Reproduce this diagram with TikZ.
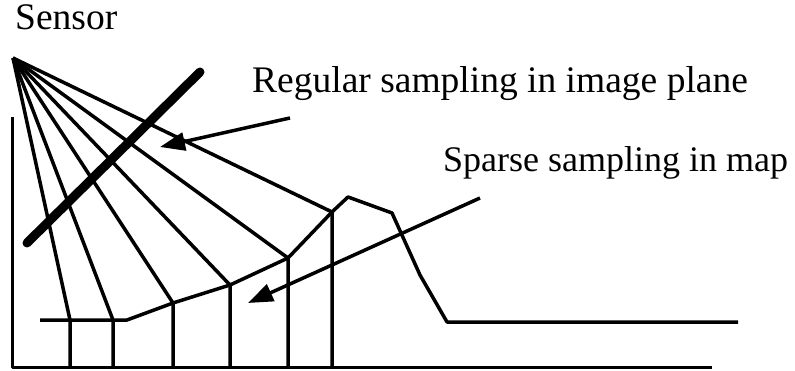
\documentclass[tikz,border=0pt]{standalone}
\usepackage{fontspec}
\setmainfont{Liberation Serif}
\usetikzlibrary{arrows.meta}
\begin{document}
\begin{tikzpicture}[x=1pt,y=-1pt,line join=round,
    ray/.style={line width=3.5pt},
    pointer/.style={line width=3.5pt,-{Triangle[length=25pt,width=18pt]}},
    lbl/.style={anchor=base west,inner sep=0pt,font=\fontsize{37.5}{40}\selectfont}]
  \useasboundingbox (0,0) rectangle (795,371);
  \coordinate (S) at (13,58);
  \coordinate (O) at (12,367); \coordinate (E) at (712,367); \coordinate (Y) at (12,117);
  % terrain samples
  \coordinate (T1) at (70,320);  \coordinate (T2) at (113,320); \coordinate (T3) at (173,303);
  \coordinate (T4) at (230,285); \coordinate (T5) at (288,258); \coordinate (T6) at (332,212);
  % axes
  \draw[line width=3pt] (Y) -- (O) -- (E);
  % terrain profile
  \draw[ray] (40,320) -- (T2) -- (127,320) -- (T3) -- (T4) -- (T5) -- (T6)
       -- (348,197) -- (392,213) -- (420,275) -- (447,322) -- (738,322);
  % rays and their map columns
  \foreach \t in {T1,T2,T3,T4,T5,T6}
    \draw[ray] (S) -- (\t) -- (\t |- O);
  % image plane
  \draw[line width=9pt,line cap=round] (27,243) -- (200,72);
  \node[lbl] (sensor) at (15,30) {Sensor};
  \node[lbl] (regular) at (252,93) {Regular sampling in image plane};
  \node[lbl,font=\fontsize{36}{40}\selectfont] (sparse) at (443,172) {Sparse sampling in map};
  \coordinate (r0) at (290,118); \coordinate (r1) at (160,147);
  \coordinate (s0) at (480,198); \coordinate (s1) at (248,303);
  \draw[pointer] (r0) -- (r1);
  \draw[pointer] (s0) -- (s1);
\end{tikzpicture}
\end{document}
